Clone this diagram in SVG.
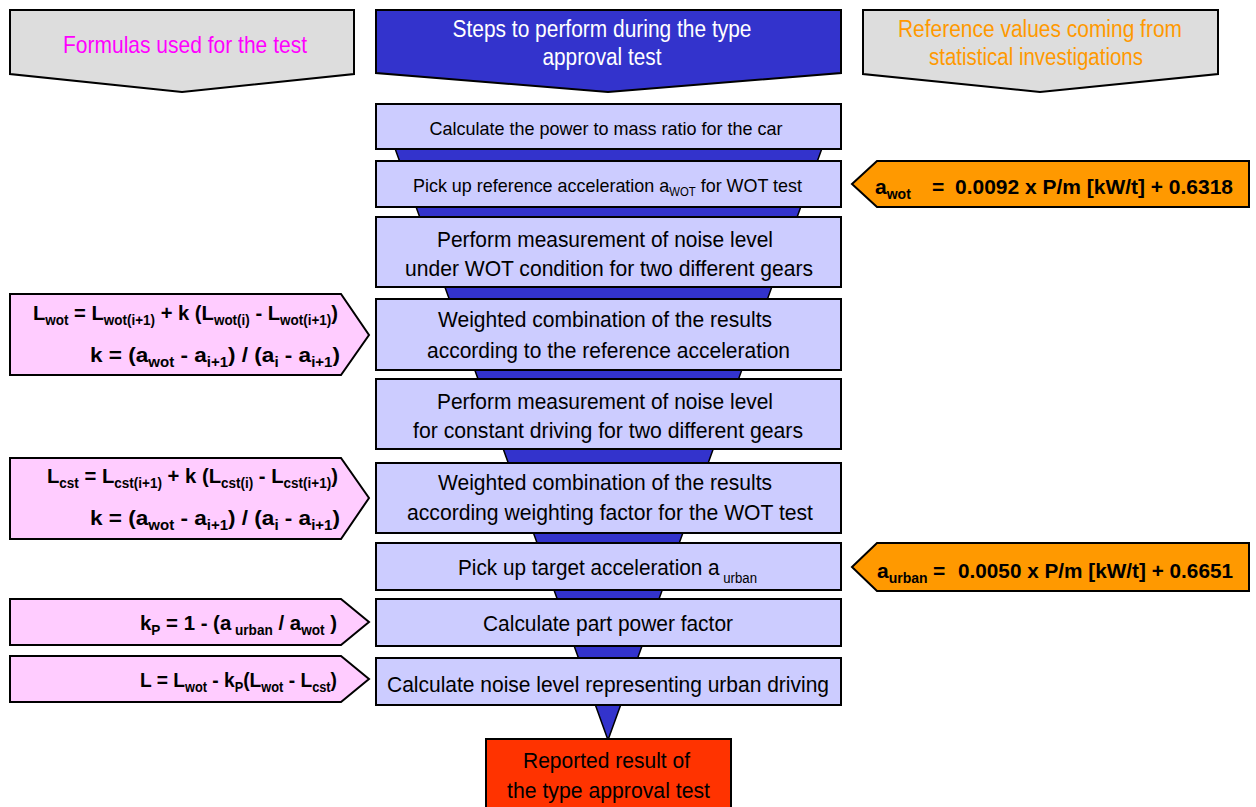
<svg xmlns="http://www.w3.org/2000/svg" width="1256" height="807" viewBox="0 0 1256 807">
<style>
.hd{stroke:#000;stroke-width:2;stroke-linejoin:miter}
.step{fill:#CCCCFF;stroke:#000;stroke-width:2}
.pink{fill:#FFCCFF;stroke:#000;stroke-width:2}
.orng{fill:#FF9900;stroke:#000;stroke-width:2}
text{font-family:"Liberation Sans",Arial,sans-serif}
.t{font-size:22px;fill:#000;text-anchor:middle}
.ts{font-size:19px;fill:#000}
.f{font-size:21px;font-weight:bold;fill:#000}
.sb{font-size:14px}
</style>
<rect width="1256" height="807" fill="#fff"/>
<g id="header-formulas">
<polygon class="hd" fill="#DDDDDD" points="10,10 354,10 354,74 182,92 10,74"/>
<text x="185" y="53" style="font-size:24px;fill:#FF00FF;text-anchor:middle" textLength="244" lengthAdjust="spacingAndGlyphs">Formulas used for the test</text>
</g>
<g id="header-steps">
<polygon class="hd" fill="#3333CC" points="376,10 841,10 841,73 608,92 376,73"/>
<text x="602" y="37" style="font-size:23px;fill:#fff;text-anchor:middle" textLength="299" lengthAdjust="spacingAndGlyphs">Steps  to perform during the type</text>
<text x="602" y="65" style="font-size:23px;fill:#fff;text-anchor:middle" textLength="119" lengthAdjust="spacingAndGlyphs">approval test</text>
</g>
<g id="header-reference">
<polygon class="hd" fill="#DDDDDD" points="863,10 1218,10 1218,74 1040,92 863,74"/>
<text x="1040" y="37" style="font-size:23px;fill:#FF9900;text-anchor:middle" textLength="284" lengthAdjust="spacingAndGlyphs">Reference values coming from</text>
<text x="1036" y="65" style="font-size:23px;fill:#FF9900;text-anchor:middle" textLength="214" lengthAdjust="spacingAndGlyphs">statistical investigations</text>
</g>
<g id="connectors">
<polygon points="379,104 838,104 608,740" fill="#3333CC" stroke="#000" stroke-width="1.5"/>
</g>
<g id="step1">
<rect class="step" x="376" y="104" width="465" height="45"/>
<text class="ts" x="606" y="135" text-anchor="middle" textLength="353" lengthAdjust="spacingAndGlyphs">Calculate the  power to mass ratio for the car</text>
</g>
<g id="step2">
<rect class="step" x="376" y="161" width="465" height="46"/>
<text class="ts" x="413" y="192" textLength="389" lengthAdjust="spacingAndGlyphs">Pick up reference acceleration a<tspan style="font-size:12px" dy="4">WOT</tspan><tspan dy="-4"> for WOT test</tspan></text>
</g>
<g id="step3">
<rect class="step" x="376" y="217" width="465" height="70"/>
<text class="t" x="605" y="247" textLength="336" lengthAdjust="spacingAndGlyphs">Perform measurement of noise level</text>
<text class="t" x="609" y="276" textLength="408" lengthAdjust="spacingAndGlyphs">under WOT condition for two different gears</text>
</g>
<g id="step4">
<rect class="step" x="376" y="299" width="465" height="71"/>
<text class="t" x="605" y="327" textLength="334" lengthAdjust="spacingAndGlyphs">Weighted combination of the results</text>
<text class="t" x="608.5" y="358" textLength="363" lengthAdjust="spacingAndGlyphs">according to the reference acceleration</text>
</g>
<g id="step5">
<rect class="step" x="376" y="379" width="465" height="70"/>
<text class="t" x="605" y="409" textLength="336" lengthAdjust="spacingAndGlyphs">Perform measurement of noise level</text>
<text class="t" x="608" y="438" textLength="390" lengthAdjust="spacingAndGlyphs">for constant driving for two different gears</text>
</g>
<g id="step6">
<rect class="step" x="376" y="463" width="465" height="70"/>
<text class="t" x="605" y="490" textLength="334" lengthAdjust="spacingAndGlyphs">Weighted combination of the results</text>
<text class="t" x="610" y="520" textLength="406" lengthAdjust="spacingAndGlyphs">according weighting factor for the WOT test</text>
</g>
<g id="step7">
<rect class="step" x="376" y="543" width="465" height="47"/>
<text x="458" y="575" style="font-size:22px" textLength="299" lengthAdjust="spacingAndGlyphs">Pick up target acceleration a<tspan class="sb" dy="8"> urban</tspan></text>
</g>
<g id="step8">
<rect class="step" x="376" y="599" width="465" height="47"/>
<text class="t" x="608" y="631" textLength="250" lengthAdjust="spacingAndGlyphs">Calculate part power factor</text>
</g>
<g id="step9">
<rect class="step" x="376" y="658" width="465" height="47"/>
<text class="t" x="608" y="692" textLength="442" lengthAdjust="spacingAndGlyphs">Calculate noise level representing urban driving</text>
</g>
<g id="result">
<rect x="486" y="739" width="245" height="80" fill="#FF3300" stroke="#000" stroke-width="2"/>
<text class="t" x="606.5" y="768" textLength="167" lengthAdjust="spacingAndGlyphs">Reported result of</text>
<text class="t" x="608.5" y="798" textLength="203" lengthAdjust="spacingAndGlyphs">the type approval test</text>
</g>
<g id="ref-awot">
<polygon class="orng" points="852,184 877,161 1249,161 1249,207 877,207"/>
<text class="f" x="875" y="194">a<tspan class="sb" dy="5">wot</tspan></text>
<text class="f" x="932" y="194">=</text>
<text class="f" x="955" y="194" textLength="278" lengthAdjust="spacingAndGlyphs">0.0092 x P/m [kW/t] + 0.6318</text>
</g>
<g id="ref-aurban">
<polygon class="orng" points="852,567 877,543 1249,543 1249,591 877,591"/>
<text class="f" x="877" y="578">a<tspan class="sb" dy="5">urban</tspan></text>
<text class="f" x="933" y="578">=</text>
<text class="f" x="958" y="578" textLength="275" lengthAdjust="spacingAndGlyphs">0.0050 x P/m [kW/t] + 0.6651</text>
</g>
<g id="formula-lwot">
<polygon class="pink" points="10,294 341,294 369,335 341,375 10,375"/>
<text class="f" x="33" y="320" textLength="305" lengthAdjust="spacingAndGlyphs">L<tspan class="sb" dy="5">wot</tspan><tspan dy="-5"> = L</tspan><tspan class="sb" dy="5">wot(i+1)</tspan><tspan dy="-5"> + k (L</tspan><tspan class="sb" dy="5">wot(i)</tspan><tspan dy="-5"> - L</tspan><tspan class="sb" dy="5">wot(i+1)</tspan><tspan dy="-5">)</tspan></text>
<text class="f" x="90" y="362" textLength="250" lengthAdjust="spacingAndGlyphs">k = (a<tspan class="sb" dy="5">wot</tspan><tspan dy="-5"> - a</tspan><tspan class="sb" dy="5">i+1</tspan><tspan dy="-5">) / (a</tspan><tspan class="sb" dy="5">i</tspan><tspan dy="-5"> - a</tspan><tspan class="sb" dy="5">i+1</tspan><tspan dy="-5">)</tspan></text>
</g>
<g id="formula-lcst">
<polygon class="pink" points="10,458 341,458 369,498 341,539 10,539"/>
<text class="f" x="47" y="483" textLength="291" lengthAdjust="spacingAndGlyphs">L<tspan class="sb" dy="5">cst</tspan><tspan dy="-5"> = L</tspan><tspan class="sb" dy="5">cst(i+1)</tspan><tspan dy="-5"> + k (L</tspan><tspan class="sb" dy="5">cst(i)</tspan><tspan dy="-5"> - L</tspan><tspan class="sb" dy="5">cst(i+1)</tspan><tspan dy="-5">)</tspan></text>
<text class="f" x="90" y="525" textLength="250" lengthAdjust="spacingAndGlyphs">k = (a<tspan class="sb" dy="5">wot</tspan><tspan dy="-5"> - a</tspan><tspan class="sb" dy="5">i+1</tspan><tspan dy="-5">) / (a</tspan><tspan class="sb" dy="5">i</tspan><tspan dy="-5"> - a</tspan><tspan class="sb" dy="5">i+1</tspan><tspan dy="-5">)</tspan></text>
</g>
<g id="formula-kp">
<polygon class="pink" points="10,599 341,599 369,622 341,645 10,645"/>
<text class="f" x="140" y="630" textLength="197" lengthAdjust="spacingAndGlyphs">k<tspan class="sb" dy="5">P</tspan><tspan dy="-5"> = 1 - (a</tspan><tspan class="sb" dy="5"> urban</tspan><tspan dy="-5">  / a</tspan><tspan class="sb" dy="5">wot</tspan><tspan dy="-5"> )</tspan></text>
</g>
<g id="formula-l">
<polygon class="pink" points="10,656 341,656 369,679 341,702 10,702"/>
<text class="f" x="140" y="687" textLength="197" lengthAdjust="spacingAndGlyphs">L = L<tspan class="sb" dy="5">wot</tspan><tspan dy="-5"> - k</tspan><tspan class="sb" dy="5">P</tspan><tspan dy="-5">(L</tspan><tspan class="sb" dy="5">wot</tspan><tspan dy="-5"> - L</tspan><tspan class="sb" dy="5">cst</tspan><tspan dy="-5">)</tspan></text>
</g>
</svg>
